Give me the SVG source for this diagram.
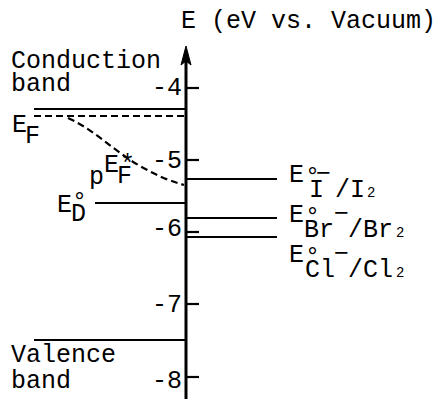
<svg xmlns="http://www.w3.org/2000/svg" width="443" height="399" viewBox="0 0 443 399">
<defs>
<style>
text{font-family:"Liberation Mono","Courier New",monospace;font-size:25px;fill:#000}
.sm{font-size:14px}
.ln{stroke:#000;stroke-width:2.2;fill:none}
.ax{stroke:#000;stroke-width:3;fill:none}
.dash{stroke:#000;stroke-width:2.2;fill:none;stroke-dasharray:7 4}
</style>
</defs>
<rect width="443" height="399" fill="#fff"/>
<g id="axis">
<line class="ax" x1="186" y1="58" x2="186" y2="399"/>
<path d="M186,46 L191,65 L186,61 L181,65 Z" fill="#000" stroke="#000" stroke-width="1"/>
<text x="181" y="28">E (eV vs. Vacuum)</text>
</g>
<g id="ticks">
<line class="ln" x1="186" y1="88" x2="199" y2="88"/>
<line class="ln" x1="186" y1="160" x2="199" y2="160"/>
<line class="ln" x1="186" y1="232" x2="199" y2="232"/>
<line class="ln" x1="186" y1="304" x2="199" y2="304"/>
<line class="ln" x1="186" y1="377" x2="199" y2="377"/>
<text x="182" y="95" text-anchor="end">-4</text>
<text x="182" y="168" text-anchor="end">-5</text>
<text x="182" y="236" text-anchor="end">-6</text>
<text x="182" y="312" text-anchor="end">-7</text>
<text x="182" y="388" text-anchor="end">-8</text>
</g>
<g id="conduction-band">
<line class="ln" x1="34" y1="109" x2="186" y2="109"/>
<text x="11" y="68">Conduction</text>
<text x="11" y="91">band</text>
</g>
<g id="fermi-level">
<line class="dash" x1="34" y1="116" x2="186" y2="116"/>
<text x="12" y="132">E</text>
<text x="25" y="143">F</text>
</g>
<g id="quasi-fermi">
<path class="dash" d="M68,118 C95,130 115,152 140,166 S172,181 184,185"/>
<text x="89" y="184">p</text>
<text x="104" y="172">E</text>
<text x="120" y="172">*</text>
<text x="117" y="183">F</text>
</g>
<g id="donor-level">
<line class="ln" x1="95" y1="203" x2="186" y2="203"/>
<text x="57" y="212">E</text>
<text x="72" y="209">°</text>
<text x="71" y="221">D</text>
</g>
<g id="valence-band">
<line class="ln" x1="34" y1="340" x2="186" y2="340"/>
<text x="11" y="362">Valence</text>
<text x="11" y="388">band</text>
</g>
<g id="iodide">
<line class="ln" x1="186" y1="179" x2="277" y2="179"/>
<text x="289" y="182">E</text>
<text x="305" y="184">°</text>
<text x="309" y="197">I</text>
<text x="316" y="181">−</text>
<text x="335" y="197">/I<tspan class="sm" dx="2">2</tspan></text>
</g>
<g id="bromide">
<line class="ln" x1="186" y1="218" x2="277" y2="218"/>
<text x="289" y="222">E</text>
<text x="305" y="224">°</text>
<text x="304" y="237">Br</text>
<text x="334" y="221">−</text>
<text x="348" y="237">/Br<tspan class="sm" dx="3">2</tspan></text>
</g>
<g id="chloride">
<line class="ln" x1="186" y1="237" x2="277" y2="237"/>
<text x="289" y="262">E</text>
<text x="305" y="264">°</text>
<text x="305" y="277">Cl</text>
<text x="334" y="261">−</text>
<text x="348" y="277">/Cl<tspan class="sm" dx="3">2</tspan></text>
</g>
</svg>
